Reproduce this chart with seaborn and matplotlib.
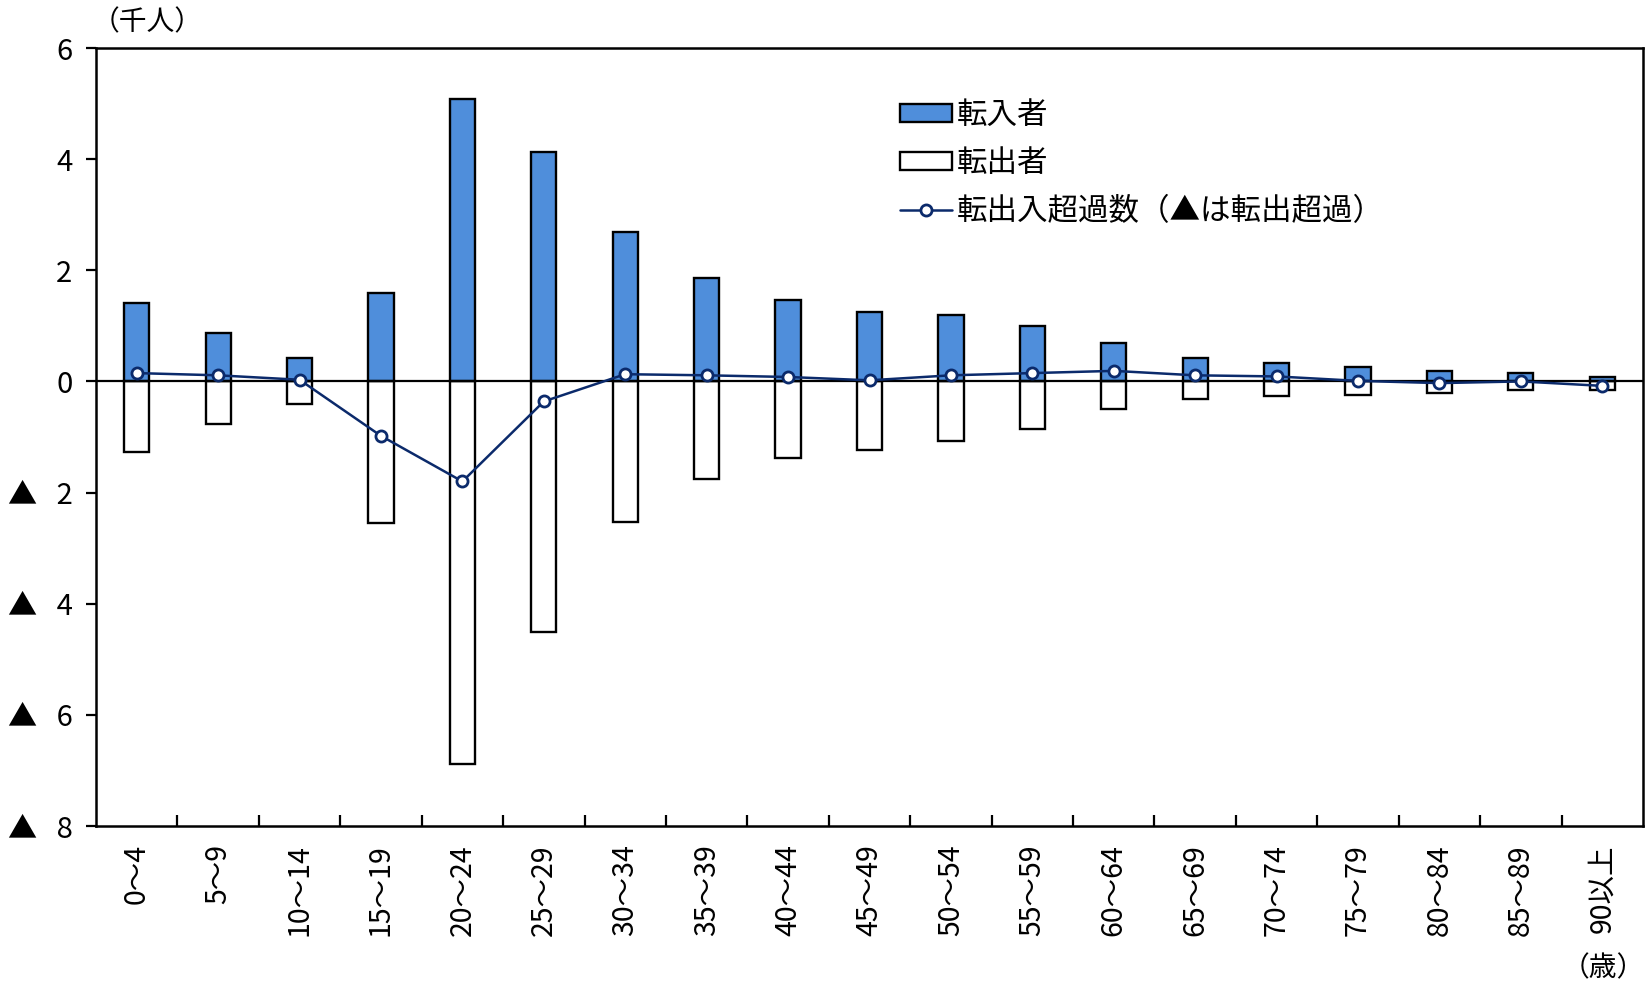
import matplotlib
matplotlib.use("Agg")
import numpy as np
import pandas as pd
import seaborn as sns
from matplotlib import pyplot as plt
from matplotlib.patches import Patch
from matplotlib.lines import Line2D
from matplotlib.ticker import FixedLocator

ages = ['0～4', '5～9', '10～14', '15～19', '20～24', '25～29', '30～34', '35～39', '40～44',
        '45～49', '50～54', '55～59', '60～64', '65～69', '70～74', '75～79', '80～84', '85～89', '90以上']
inflow = [1.42, 0.87, 0.43, 1.59, 5.08, 4.12, 2.68, 1.87, 1.46, 1.25, 1.19, 1.00, 0.70, 0.43,
          0.34, 0.26, 0.19, 0.15, 0.08]
outflow = [-1.27, -0.76, -0.40, -2.55, -6.88, -4.50, -2.53, -1.76, -1.38, -1.23, -1.08, -0.85,
           -0.49, -0.32, -0.26, -0.25, -0.21, -0.15, -0.15]
net = [0.15, 0.11, 0.03, -0.98, -1.80, -0.36, 0.13, 0.11, 0.08, 0.02, 0.11, 0.15, 0.19, 0.11,
       0.09, 0.01, -0.03, 0.00, -0.08]
yticks = [-8, -6, -4, -2, 0, 2, 4, 6]
ytick_labels = ['▲   8', '▲   6', '▲   4', '▲   2', '0', '2', '4', '6']

df = pd.DataFrame({'age': ages, 'in': inflow, 'out': outflow, 'net': net})

sns.set_style('ticks')
plt.rcParams['font.family'] = ['Noto Sans CJK JP', 'DejaVu Sans']
plt.rcParams['axes.unicode_minus'] = False
plt.rcParams['text.color'] = 'black'
plt.rcParams['xtick.color'] = 'black'
plt.rcParams['ytick.color'] = 'black'

blue = '#4F8EDB'
navy = '#0B2A6B'

fig = plt.figure(figsize=(16.45, 9.84), dpi=100)
ax = fig.add_axes([96 / 1645, 1 - 826 / 984, 1547 / 1645, (826 - 48) / 984])

sns.barplot(data=df, x='age', y='out', color='white', edgecolor='black', linewidth=1.7,
            width=0.31, saturation=1, ax=ax, zorder=2)
sns.barplot(data=df, x='age', y='in', color=blue, edgecolor='black', linewidth=1.7,
            width=0.31, saturation=1, ax=ax, zorder=2)
ax.axhline(0, color='black', lw=1.6, zorder=3)
sns.pointplot(data=df, x='age', y='net', color=navy, markers='o', linewidth=1.8,
              markersize=8, ax=ax, zorder=4)
for ln in ax.lines[1:]:
    ln.set_markerfacecolor('white')
    ln.set_markeredgecolor(navy)
    ln.set_markeredgewidth(2)

ax.set_xlim(-0.5, len(ages) - 0.5)
ax.set_ylim(-8, 6)
ax.set_yticks(yticks)
ax.set_yticklabels(ytick_labels, fontsize=21)
ax.set_xlabel('')
ax.set_ylabel('')
ax.tick_params(axis='y', direction='out', length=7, width=1.6, pad=10, colors='black')
ax.tick_params(axis='x', which='major', length=0, pad=13, labelsize=20.5, labelrotation=90,
               colors='black')
ax.xaxis.set_minor_locator(FixedLocator(np.arange(0.5, len(ages) - 1, 1)))
ax.tick_params(axis='x', which='minor', direction='in', length=8, width=1.6, colors='black')
for s in ax.spines.values():
    s.set_linewidth(1.8)
    s.set_color('black')

handles = [Patch(facecolor=blue, edgecolor='black', linewidth=1.7),
           Patch(facecolor='white', edgecolor='black', linewidth=1.7),
           Line2D([], [], color=navy, lw=1.8, marker='o', markersize=8,
                  markerfacecolor='white', markeredgecolor=navy, markeredgewidth=2)]
labels = ['転入者', '転出者', '転出入超過数（▲は転出超過）']
leg = ax.legend(handles, labels, loc='upper left', bbox_to_anchor=(900 / 1645, 1 - 100 / 984),
                bbox_transform=fig.transFigure, frameon=False, fontsize=22, borderpad=0,
                handlelength=1.7, handleheight=0.55, handletextpad=0.15, labelspacing=0.55,
                borderaxespad=0)
for t in leg.get_texts():
    t.set_color('black')

fig.text(92 / 1645, 1 - 22 / 984, '（千人）', fontsize=20, ha='left', va='center', color='black')
fig.text(1645 / 1645, 1 - 968 / 984, '（歳）', fontsize=20, ha='right', va='center', color='black')

fig.savefig('out.png', dpi=100)
